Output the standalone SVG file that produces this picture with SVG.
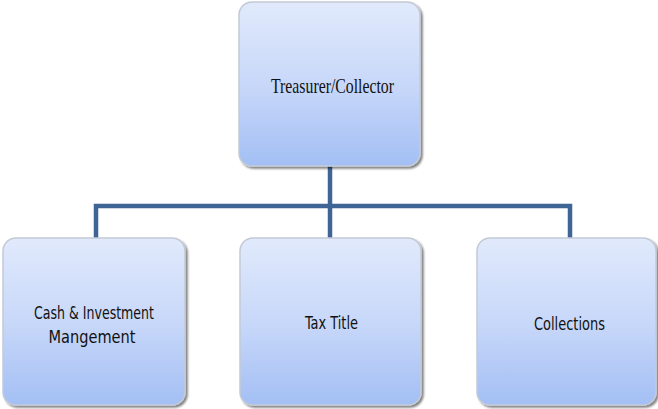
<svg xmlns="http://www.w3.org/2000/svg" width="658" height="409" viewBox="0 0 658 409">
  <defs>
    <linearGradient id="boxFill" x1="0" y1="0" x2="0" y2="1">
      <stop offset="0" stop-color="#e1eafc"/>
      <stop offset="0.5" stop-color="#c8d8f9"/>
      <stop offset="1" stop-color="#a3bff4"/>
    </linearGradient>
    <filter id="shadow" x="-10%" y="-10%" width="125%" height="125%">
      <feGaussianBlur in="SourceAlpha" stdDeviation="1"/>
      <feOffset dx="2" dy="2" result="off"/>
      <feComponentTransfer><feFuncA type="linear" slope="0.5"/></feComponentTransfer>
      <feMerge><feMergeNode/><feMergeNode in="SourceGraphic"/></feMerge>
    </filter>
  </defs>
  <style>
    .box { fill: url(#boxFill); stroke: #c3cad6; stroke-width: 1.5; filter: url(#shadow); }
    .link { fill: none; stroke: #3e6596; stroke-width: 4.5; }
    .serif { font-family: "Liberation Serif", "Times New Roman", serif; font-size: 22px; fill: #111; }
    .sans { font-family: "DejaVu Sans Condensed", "Liberation Sans", Arial, sans-serif; font-size: 18px; fill: #111; }
  </style>

  <rect width="658" height="409" fill="#ffffff"/>

  <g id="connectors">
    <path class="link" d="M330 166 V206"/>
    <path class="link" d="M96 238 V206 H570 V238"/>
    <path class="link" d="M330 206 V238"/>
  </g>

  <g id="node-treasurer">
    <rect class="box" x="239" y="2" width="181" height="164" rx="13"/>
    <text class="serif" x="332.5" y="93" text-anchor="middle" textLength="123" lengthAdjust="spacingAndGlyphs">Treasurer/Collector</text>
  </g>

  <g id="node-cash">
    <rect class="box" x="3" y="238" width="182" height="167" rx="13"/>
    <text class="sans" x="94" y="319" text-anchor="middle" textLength="120" lengthAdjust="spacingAndGlyphs">Cash &amp; Investment</text>
    <text class="sans" x="92" y="343" text-anchor="middle" textLength="87" lengthAdjust="spacingAndGlyphs">Mangement</text>
  </g>

  <g id="node-taxtitle">
    <rect class="box" x="240" y="238" width="181" height="167" rx="13"/>
    <text class="sans" x="331.5" y="329" text-anchor="middle" textLength="53" lengthAdjust="spacingAndGlyphs">Tax Title</text>
  </g>

  <g id="node-collections">
    <rect class="box" x="477" y="238" width="179" height="167" rx="13"/>
    <text class="sans" x="569.5" y="330" text-anchor="middle" textLength="71" lengthAdjust="spacingAndGlyphs">Collections</text>
  </g>
</svg>
